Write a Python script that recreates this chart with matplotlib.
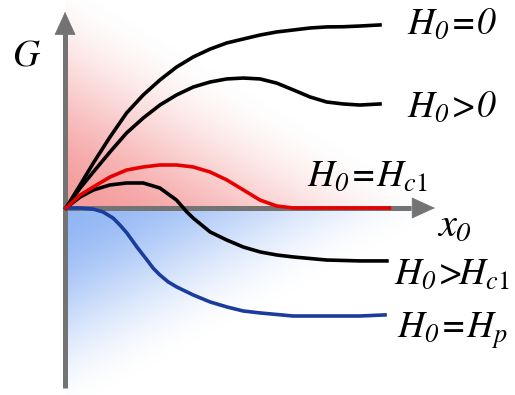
import numpy as np
import matplotlib.pyplot as plt

# italic serif everywhere in math text; \mathsf is kept for upright digits
plt.rcParams['mathtext.fontset'] = 'custom'
plt.rcParams['mathtext.rm'] = 'STIXGeneral:italic'
plt.rcParams['mathtext.it'] = 'STIXGeneral:italic'
plt.rcParams['mathtext.sf'] = 'STIXGeneral'

# energy profiles G(x0) for each field regime
x_h0 = [0, 0.45, 0.87, 1.4, 1.93, 2.46, 2.99, 3.52, 4.05, 4.59, 5.12, 5.65,
        6.18, 6.71, 7.24, 7.77, 8.3, 8.83, 9.36, 10.0]
g_h0 = [0, 1.28, 2.5, 3.94, 5.28, 6.28, 7.11, 7.83, 8.39, 8.83, 9.17, 9.39,
        9.61, 9.78, 9.89, 10.0, 10.06, 10.07, 10.11, 10.17]

x_pos = [0, 0.45, 0.87, 1.4, 1.93, 2.46, 2.99, 3.52, 4.05, 4.59, 5.12, 5.65,
         6.18, 6.71, 7.24, 7.77, 8.3, 8.83, 9.36, 10.0]
g_pos = [0, 1.11, 2.0, 3.11, 4.17, 5.0, 5.72, 6.28, 6.72, 7.0, 7.17, 7.22,
         7.17, 6.94, 6.56, 6.17, 5.89, 5.78, 5.72, 5.78]

x_hc1 = [0, 0.45, 0.87, 1.4, 1.93, 2.46, 2.99, 3.52, 4.05, 4.59, 5.12, 5.65,
         6.18, 6.71, 7.24, 10.3]
g_hc1 = [0, 0.72, 1.17, 1.72, 2.11, 2.28, 2.39, 2.39, 2.28, 2.0, 1.56, 1.0,
         0.44, 0.11, 0, 0]

x_gt = [0, 0.45, 0.87, 1.4, 1.93, 2.46, 2.99, 3.52, 3.85, 4.05, 4.59, 5.12,
        5.65, 6.18, 6.71, 7.24, 8.3, 9.36, 10.22]
g_gt = [0, 0.61, 1.0, 1.28, 1.39, 1.39, 1.11, 0.44, -0.22, -0.56, -1.33, -1.78,
        -2.17, -2.44, -2.61, -2.72, -2.89, -2.94, -2.94]

x_hp = [0, 0.45, 0.87, 1.18, 1.5, 1.72, 1.94, 2.26, 2.58, 2.78, 2.99, 3.25, 3.53,
        4.05, 4.59, 5.13, 5.64, 6.18, 7.23, 8.31, 9.36, 10.16]
g_hp = [0, 0, -0.06, -0.22, -0.56, -0.95, -1.39, -2.17, -2.89, -3.35, -3.72, -4.1,
        -4.39, -4.83, -5.22, -5.5, -5.72, -5.83, -6.0, -6.0, -6.0, -5.94]

labels = [r'$H_0\!=\!0$', r'$H_0\!>\!0$',
          r'$H_0\!=\!H_{c\mathsf{1}}$', r'$H_0\!>\!\!H_{c\mathsf{1}}$',
          r'$H_0\!=\!H_p$']
label_x = [10.86, 10.86, 7.68, 10.45, 10.54]
label_y = [9.61, 5.0, 1.17, -4.28, -7.22]

# pixel scale of one unit on each axis
sx, sy = 31.4, 18.0

fig = plt.figure(figsize=(5.15, 3.95), dpi=100)
ax = fig.add_axes([0, 0, 1, 1])
ax.set_xlim(-66 / sx, 449 / sx)
ax.set_ylim(-187 / sy, 208 / sy)
ax.axis('off')


def fade(d, reach):
    t = np.clip(d / reach, 0, 1)
    return 1 - t * t * (3 - 2 * t)


# shaded backgrounds, fading away from the origin
xx = np.linspace(0, 12, 400)
gy_up = np.linspace(0, 11.6, 300)
U, V = np.meshgrid(xx * sx, gy_up * sy)
red = np.zeros(U.shape + (4,))
red[..., :3] = [245 / 255, 155 / 255, 155 / 255]
red[..., 3] = fade(0.6 * U + V, 235.0)
ax.imshow(red, extent=[0, 12, 0, 11.6], origin='lower', aspect='auto', zorder=0)

gy_dn = np.linspace(-10.5, 0, 300)
U, W = np.meshgrid(xx * sx, -gy_dn * sy)
blue = np.zeros(U.shape + (4,))
blue[..., :3] = [145 / 255, 182 / 255, 245 / 255]
blue[..., 3] = fade(0.53 * U + W, 210.0)
ax.imshow(blue, extent=[0, 12, -10.5, 0], origin='lower', aspect='auto', zorder=0)

# axes with arrow heads
axc = '#737373'
ax.plot([-0.03, -0.03], [-10.0, 9.8], color=axc, lw=3.6, solid_capstyle='butt', zorder=2)
ax.plot([-0.1, 11.0], [0, 0], color=axc, lw=3.6, solid_capstyle='butt', zorder=2)
hd = dict(arrowstyle='-|>,head_length=1.58,head_width=0.72', mutation_scale=10,
          lw=0.5, fc=axc, ec=axc, shrinkA=0, shrinkB=0)
ax.annotate('', xy=(-0.03, 10.9), xytext=(-0.03, 9.0), arrowprops=hd, zorder=2)
ax.annotate('', xy=(11.75, 0), xytext=(10.5, 0), arrowprops=hd, zorder=2)

ax.plot(x_h0, g_h0, color='black', lw=2.6, zorder=3)
ax.plot(x_pos, g_pos, color='black', lw=2.6, zorder=3)
ax.plot(x_gt, g_gt, color='black', lw=2.6, zorder=3)
ax.plot(x_hp, g_hp, color='#1a3c9c', lw=2.6, zorder=3)
ax.plot(x_hc1, g_hc1, color='#e60000', lw=2.6, zorder=4)

for s, lx, ly in zip(labels, label_x, label_y):
    ax.text(lx, ly, s, fontsize=27, va='baseline', ha='left', zorder=5)

ax.text(-1.72, 7.94, r'$G$', fontsize=27, va='baseline', ha='left')
ax.text(11.82, -1.61, r'$x_0$', fontsize=29, va='baseline', ha='left')

fig.savefig('out.png', dpi=100)
